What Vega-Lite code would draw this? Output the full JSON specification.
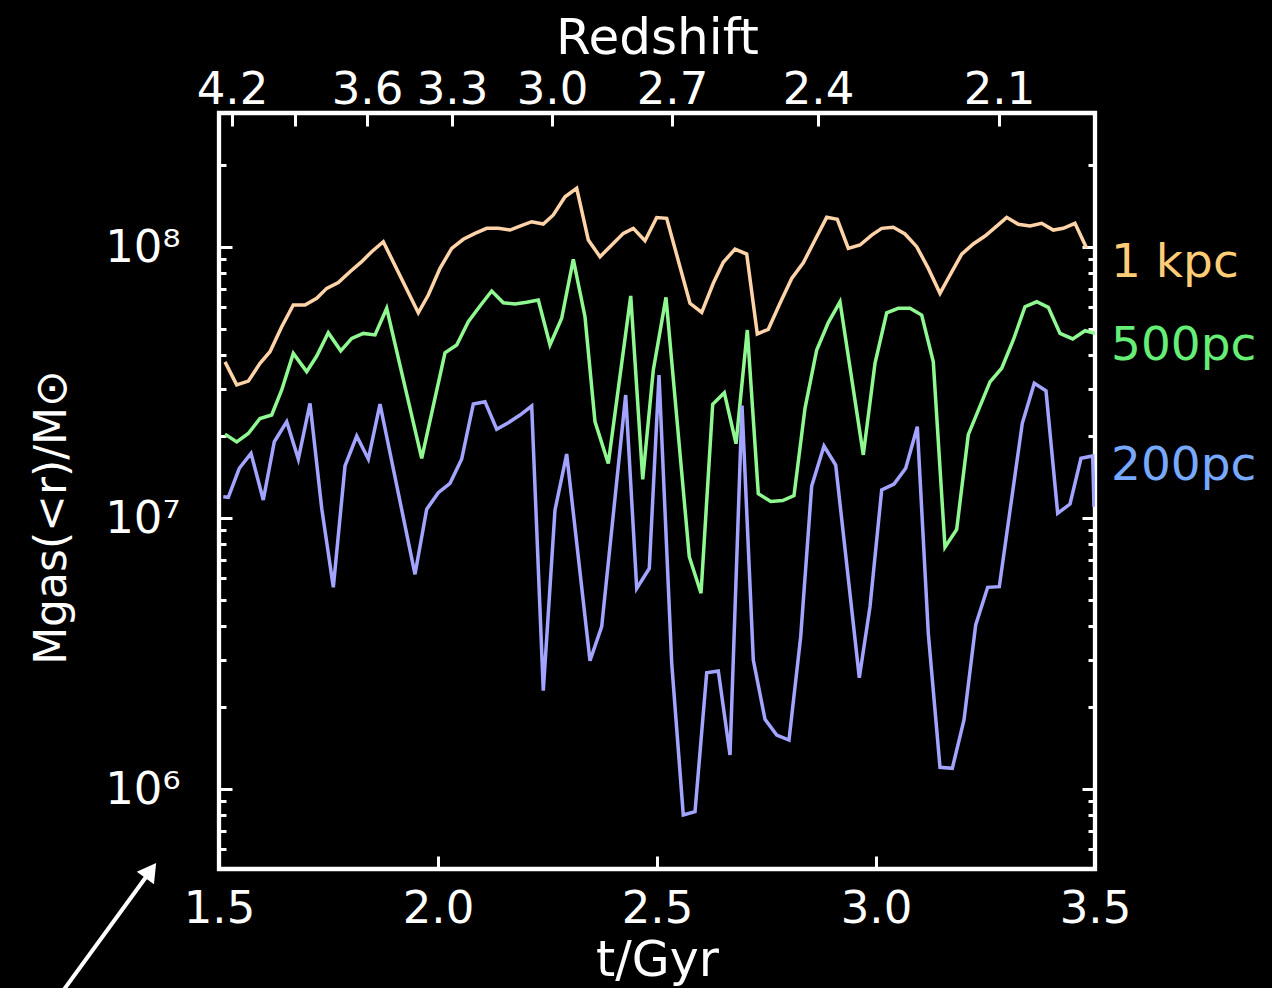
{
  "$schema": "https://vega.github.io/schema/vega-lite/v6.json",
  "width": 876,
  "height": 756,
  "autosize": "none",
  "padding": {"left": 219, "top": 113, "right": 177, "bottom": 119},
  "background": "black",
  "config": {"view": {"stroke": "white", "strokeWidth": 4.3}, "font": "DejaVu Sans"},
  "datasets": {
    "gas": [
      {"s":"1 kpc","t":1.5137,"m":3.77e7},{"s":"1 kpc","t":1.5404,"m":3.10e7},{"s":"1 kpc","t":1.5669,"m":3.20e7},{"s":"1 kpc","t":1.5936,"m":3.72e7},{"s":"1 kpc","t":1.6164,"m":4.11e7},{"s":"1 kpc","t":1.6432,"m":5.08e7},{"s":"1 kpc","t":1.6696,"m":6.11e7},{"s":"1 kpc","t":1.6963,"m":6.11e7},{"s":"1 kpc","t":1.7231,"m":6.47e7},{"s":"1 kpc","t":1.7459,"m":7.04e7},{"s":"1 kpc","t":1.7724,"m":7.39e7},{"s":"1 kpc","t":1.7991,"m":8.11e7},{"s":"1 kpc","t":1.8258,"m":8.83e7},{"s":"1 kpc","t":1.8486,"m":9.61e7},{"s":"1 kpc","t":1.8751,"m":1.046e8},{"s":"1 kpc","t":1.9550,"m":5.72e7},{"s":"1 kpc","t":1.9779,"m":6.65e7},{"s":"1 kpc","t":2.0046,"m":8.34e7},{"s":"1 kpc","t":2.0313,"m":9.89e7},{"s":"1 kpc","t":2.0578,"m":1.068e8},{"s":"1 kpc","t":2.0845,"m":1.123e8},{"s":"1 kpc","t":2.1112,"m":1.172e8},{"s":"1 kpc","t":2.1377,"m":1.172e8},{"s":"1 kpc","t":2.1644,"m":1.155e8},{"s":"1 kpc","t":2.1872,"m":1.195e8},{"s":"1 kpc","t":2.2139,"m":1.240e8},{"s":"1 kpc","t":2.2404,"m":1.216e8},{"s":"1 kpc","t":2.2632,"m":1.313e8},{"s":"1 kpc","t":2.2900,"m":1.533e8},{"s":"1 kpc","t":2.3167,"m":1.647e8},{"s":"1 kpc","t":2.3432,"m":1.061e8},{"s":"1 kpc","t":2.3699,"m":9.21e7},{"s":"1 kpc","t":2.3966,"m":1.017e8},{"s":"1 kpc","t":2.4231,"m":1.123e8},{"s":"1 kpc","t":2.4459,"m":1.172e8},{"s":"1 kpc","t":2.4726,"m":1.055e8},{"s":"1 kpc","t":2.4993,"m":1.285e8},{"s":"1 kpc","t":2.5221,"m":1.276e8},{"s":"1 kpc","t":2.5753,"m":6.20e7},{"s":"1 kpc","t":2.6021,"m":5.74e7},{"s":"1 kpc","t":2.6285,"m":7.35e7},{"s":"1 kpc","t":2.6514,"m":8.78e7},{"s":"1 kpc","t":2.6781,"m":9.83e7},{"s":"1 kpc","t":2.7048,"m":9.42e7},{"s":"1 kpc","t":2.7290,"m":4.78e7},{"s":"1 kpc","t":2.7541,"m":4.97e7},{"s":"1 kpc","t":2.7808,"m":6.20e7},{"s":"1 kpc","t":2.8075,"m":7.66e7},{"s":"1 kpc","t":2.8340,"m":8.75e7},{"s":"1 kpc","t":2.8607,"m":1.061e8},{"s":"1 kpc","t":2.8874,"m":1.287e8},{"s":"1 kpc","t":2.9116,"m":1.265e8},{"s":"1 kpc","t":2.9368,"m":9.89e7},{"s":"1 kpc","t":2.9635,"m":1.017e8},{"s":"1 kpc","t":2.9902,"m":1.107e8},{"s":"1 kpc","t":3.0130,"m":1.172e8},{"s":"1 kpc","t":3.0395,"m":1.182e8},{"s":"1 kpc","t":3.0662,"m":1.117e8},{"s":"1 kpc","t":3.0929,"m":1.003e8},{"s":"1 kpc","t":3.1194,"m":8.34e7},{"s":"1 kpc","t":3.1461,"m":6.75e7},{"s":"1 kpc","t":3.1689,"m":7.88e7},{"s":"1 kpc","t":3.1957,"m":9.42e7},{"s":"1 kpc","t":3.2221,"m":1.026e8},{"s":"1 kpc","t":3.2489,"m":1.098e8},{"s":"1 kpc","t":3.2756,"m":1.195e8},{"s":"1 kpc","t":3.2984,"m":1.287e8},{"s":"1 kpc","t":3.3249,"m":1.213e8},{"s":"1 kpc","t":3.3516,"m":1.195e8},{"s":"1 kpc","t":3.3783,"m":1.223e8},{"s":"1 kpc","t":3.4048,"m":1.155e8},{"s":"1 kpc","t":3.4276,"m":1.172e8},{"s":"1 kpc","t":3.4543,"m":1.223e8},{"s":"1 kpc","t":3.4810,"m":9.89e7},
      {"s":"500pc","t":1.5137,"m":2.04e7},{"s":"500pc","t":1.5404,"m":1.91e7},{"s":"500pc","t":1.5669,"m":2.05e7},{"s":"500pc","t":1.5936,"m":2.33e7},{"s":"500pc","t":1.6203,"m":2.40e7},{"s":"500pc","t":1.6432,"m":2.97e7},{"s":"500pc","t":1.6696,"m":4.05e7},{"s":"500pc","t":1.7002,"m":3.47e7},{"s":"500pc","t":1.7231,"m":3.96e7},{"s":"500pc","t":1.7495,"m":4.83e7},{"s":"500pc","t":1.7779,"m":4.14e7},{"s":"500pc","t":1.8030,"m":4.60e7},{"s":"500pc","t":1.8295,"m":4.80e7},{"s":"500pc","t":1.8562,"m":4.74e7},{"s":"500pc","t":1.8829,"m":5.94e7},{"s":"500pc","t":1.9628,"m":1.66e7},{"s":"500pc","t":2.0160,"m":4.07e7},{"s":"500pc","t":2.0427,"m":4.35e7},{"s":"500pc","t":2.0692,"m":5.30e7},{"s":"500pc","t":2.0959,"m":6.06e7},{"s":"500pc","t":2.1226,"m":6.88e7},{"s":"500pc","t":2.1491,"m":6.23e7},{"s":"500pc","t":2.1758,"m":6.16e7},{"s":"500pc","t":2.2025,"m":6.25e7},{"s":"500pc","t":2.2290,"m":6.37e7},{"s":"500pc","t":2.2557,"m":4.35e7},{"s":"500pc","t":2.2824,"m":5.46e7},{"s":"500pc","t":2.3089,"m":9.01e7},{"s":"500pc","t":2.3356,"m":5.53e7},{"s":"500pc","t":2.3584,"m":2.27e7},{"s":"500pc","t":2.3888,"m":1.59e7},{"s":"500pc","t":2.4400,"m":6.60e7},{"s":"500pc","t":2.4674,"m":1.39e7},{"s":"500pc","t":2.4916,"m":3.52e7},{"s":"500pc","t":2.5205,"m":6.52e7},{"s":"500pc","t":2.5737,"m":7.20e6},{"s":"500pc","t":2.6005,"m":5.28e6},{"s":"500pc","t":2.6272,"m":2.63e7},{"s":"500pc","t":2.6537,"m":2.90e7},{"s":"500pc","t":2.6804,"m":1.88e7},{"s":"500pc","t":2.7062,"m":4.94e7},{"s":"500pc","t":2.7313,"m":1.23e7},{"s":"500pc","t":2.7596,"m":1.15e7},{"s":"500pc","t":2.7870,"m":1.16e7},{"s":"500pc","t":2.8128,"m":1.21e7},{"s":"500pc","t":2.8379,"m":2.54e7},{"s":"500pc","t":2.8646,"m":4.17e7},{"s":"500pc","t":2.8911,"m":5.26e7},{"s":"500pc","t":2.9178,"m":6.28e7},{"s":"500pc","t":2.9710,"m":1.71e7},{"s":"500pc","t":2.9977,"m":3.72e7},{"s":"500pc","t":3.0244,"m":5.72e7},{"s":"500pc","t":3.0509,"m":5.94e7},{"s":"500pc","t":3.0776,"m":5.94e7},{"s":"500pc","t":3.1043,"m":5.61e7},{"s":"500pc","t":3.1308,"m":3.77e7},{"s":"500pc","t":3.1575,"m":7.80e6},{"s":"500pc","t":3.1842,"m":9.08e6},{"s":"500pc","t":3.2107,"m":2.03e7},{"s":"500pc","t":3.2603,"m":3.18e7},{"s":"500pc","t":3.2870,"m":3.57e7},{"s":"500pc","t":3.3135,"m":4.54e7},{"s":"500pc","t":3.3402,"m":6.02e7},{"s":"500pc","t":3.3669,"m":6.28e7},{"s":"500pc","t":3.3934,"m":5.99e7},{"s":"500pc","t":3.4201,"m":4.80e7},{"s":"500pc","t":3.4491,"m":4.58e7},{"s":"500pc","t":3.4772,"m":4.91e7},{"s":"500pc","t":3.5,"m":4.80e7},
      {"s":"200pc","t":1.5098,"m":1.198e7},{"s":"200pc","t":1.5212,"m":1.192e7},{"s":"200pc","t":1.5463,"m":1.526e7},{"s":"200pc","t":1.5731,"m":1.733e7},{"s":"200pc","t":1.6011,"m":1.165e7},{"s":"200pc","t":1.6263,"m":1.912e7},{"s":"200pc","t":1.6546,"m":2.267e7},{"s":"200pc","t":1.6811,"m":1.651e7},{"s":"200pc","t":1.7078,"m":2.650e7},{"s":"200pc","t":1.7345,"m":1.086e7},{"s":"200pc","t":1.7610,"m":5.55e6},{"s":"200pc","t":1.7877,"m":1.556e7},{"s":"200pc","t":1.8144,"m":2.007e7},{"s":"200pc","t":1.8409,"m":1.651e7},{"s":"200pc","t":1.8676,"m":2.634e7},{"s":"200pc","t":1.9475,"m":6.20e6},{"s":"200pc","t":1.9742,"m":1.077e7},{"s":"200pc","t":2.0007,"m":1.240e7},{"s":"200pc","t":2.0274,"m":1.343e7},{"s":"200pc","t":2.0541,"m":1.651e7},{"s":"200pc","t":2.0806,"m":2.634e7},{"s":"200pc","t":2.1073,"m":2.687e7},{"s":"200pc","t":2.1340,"m":2.125e7},{"s":"200pc","t":2.1605,"m":2.247e7},{"s":"200pc","t":2.1872,"m":2.399e7},{"s":"200pc","t":2.2139,"m":2.590e7},{"s":"200pc","t":2.2404,"m":2.305e6},{"s":"200pc","t":2.2671,"m":1.070e7},{"s":"200pc","t":2.2938,"m":1.723e7},{"s":"200pc","t":2.3470,"m":2.975e6},{"s":"200pc","t":2.3737,"m":3.972e6},{"s":"200pc","t":2.4285,"m":2.843e7},{"s":"200pc","t":2.4537,"m":5.50e6},{"s":"200pc","t":2.4824,"m":6.52e6},{"s":"200pc","t":2.5046,"m":3.370e7},{"s":"200pc","t":2.5336,"m":2.910e6},{"s":"200pc","t":2.5600,"m":8.02e5},{"s":"200pc","t":2.5868,"m":8.25e5},{"s":"200pc","t":2.6135,"m":2.687e6},{"s":"200pc","t":2.6400,"m":2.725e6},{"s":"200pc","t":2.6667,"m":1.335e6},{"s":"200pc","t":2.6941,"m":2.601e7},{"s":"200pc","t":2.7199,"m":2.992e6},{"s":"200pc","t":2.7466,"m":1.808e6},{"s":"200pc","t":2.7733,"m":1.582e6},{"s":"200pc","t":2.8014,"m":1.516e6},{"s":"200pc","t":2.8281,"m":3.648e6},{"s":"200pc","t":2.8532,"m":1.313e7},{"s":"200pc","t":2.8813,"m":1.844e7},{"s":"200pc","t":2.9080,"m":1.569e7},{"s":"200pc","t":2.9619,"m":2.575e6},{"s":"200pc","t":2.9863,"m":4.707e6},{"s":"200pc","t":3.0130,"m":1.269e7},{"s":"200pc","t":3.0411,"m":1.335e7},{"s":"200pc","t":3.0678,"m":1.526e7},{"s":"200pc","t":3.0943,"m":2.173e7},{"s":"200pc","t":3.1194,"m":3.754e6},{"s":"200pc","t":3.1461,"m":1.203e6},{"s":"200pc","t":3.1742,"m":1.192e6},{"s":"200pc","t":3.2009,"m":1.797e6},{"s":"200pc","t":3.2276,"m":4.030e6},{"s":"200pc","t":3.2550,"m":5.55e6},{"s":"200pc","t":3.2815,"m":5.58e6},{"s":"200pc","t":3.3340,"m":2.235e7},{"s":"200pc","t":3.3614,"m":3.141e7},{"s":"200pc","t":3.3881,"m":2.949e7},{"s":"200pc","t":3.4148,"m":1.041e7},{"s":"200pc","t":3.4429,"m":1.126e7},{"s":"200pc","t":3.4680,"m":1.661e7},{"s":"200pc","t":3.4947,"m":1.694e7},{"s":"200pc","t":3.4977,"m":1.101e7}
    ],
    "labels": [
      {"s":"1 kpc","t":3.5,"m":7.77e7},
      {"s":"500pc","t":3.5,"m":3.83e7},
      {"s":"200pc","t":3.5,"m":1.381e7}
    ],
    "arrow": [
      {"t":1.137,"m":173800,"t2":1.3442,"m2":500400}
    ]
  },
  "layer": [
    {
      "data": {"name": "gas"},
      "mark": {"type": "line", "strokeWidth": 3.5, "clip": true},
      "encoding": {
        "x": {"field": "t", "type": "quantitative",
          "scale": {"domain": [1.5, 3.5], "nice": false, "zero": false},
          "axis": {"orient": "bottom", "values": [1.5, 2, 2.5, 3, 3.5], "format": ".1f", "domain": false, "grid": false,
            "tickColor": "white", "tickWidth": 3, "tickSize": -13, "labelPadding": 66, "labelBaseline": "alphabetic",
            "labelColor": "white", "labelFontSize": 45, "labelFlush": false, "labelOverlap": false, "labelBound": false,
            "title": "t/Gyr", "titleColor": "white", "titleFontSize": 49, "titleFontWeight": "normal",
            "titleBaseline": "alphabetic", "titleY": 106}},
        "y": {"field": "m", "type": "quantitative",
          "scale": {"type": "log", "domain": [506800, 312300000], "nice": false},
          "axis": {"orient": "left",
            "values": [600000, 700000, 800000, 900000, 1000000, 2000000, 3000000, 4000000, 5000000, 6000000, 7000000, 8000000, 9000000, 10000000, 20000000, 30000000, 40000000, 50000000, 60000000, 70000000, 80000000, 90000000, 100000000, 200000000],
            "labelExpr": "datum.value == 100000000 ? '10⁸' : datum.value == 10000000 ? '10⁷' : datum.value == 1000000 ? '10⁶' : ''",
            "tickSize": {"condition": {"test": "datum.value == 1000000 || datum.value == 10000000 || datum.value == 100000000", "value": -13}, "value": -7},
            "domain": false, "grid": false, "tickColor": "white", "tickWidth": 3,
            "labelPadding": 52, "labelColor": "white", "labelFontSize": 45, "labelOverlap": false, "labelBound": false, "labelFlush": false,
            "title": "Mgas(<r)/M⊙", "titleColor": "white", "titleFontSize": 44, "titleFontWeight": "normal",
            "titleBaseline": "alphabetic", "titleX": -154, "titleY": 404}},
        "color": {"field": "s", "type": "nominal",
          "scale": {"domain": ["1 kpc", "500pc", "200pc"], "range": ["#ffd3a8", "#90f890", "#a2a4ff"]},
          "legend": null}
      }
    },
    {
      "data": {"name": "labels"},
      "mark": {"type": "text", "align": "left", "baseline": "alphabetic", "dx": 16, "fontSize": 47, "clip": false},
      "encoding": {
        "x": {"field": "t", "type": "quantitative",
          "scale": {"domain": [1.5, 3.5], "nice": false, "zero": false},
          "axis": {"orient": "top",
            "values": [1.5297, 1.6735, 1.8379, 2.032, 2.2603, 2.5342, 2.8676, 3.2808],
            "labelExpr": "['4.2','','3.6','3.3','3.0','2.7','2.4','2.1'][indexof([1.5297, 1.6735, 1.8379, 2.032, 2.2603, 2.5342, 2.8676, 3.2808], datum.value)]",
            "domain": false, "grid": false, "tickColor": "white", "tickWidth": 3, "tickSize": -13,
            "labelPadding": 23, "labelBaseline": "alphabetic", "labelColor": "white", "labelFontSize": 45,
            "labelOverlap": false, "labelBound": false, "labelFlush": false,
            "title": "Redshift", "titleColor": "white", "titleFontSize": 50, "titleFontWeight": "normal",
            "titleBaseline": "alphabetic", "titleY": -60}},
        "y": {"field": "m", "type": "quantitative",
          "scale": {"type": "log", "domain": [506800, 312300000], "nice": false},
          "axis": {"orient": "right",
            "values": [600000, 700000, 800000, 900000, 1000000, 2000000, 3000000, 4000000, 5000000, 6000000, 7000000, 8000000, 9000000, 10000000, 20000000, 30000000, 40000000, 50000000, 60000000, 70000000, 80000000, 90000000, 100000000, 200000000],
            "labels": false,
            "tickSize": {"condition": {"test": "datum.value == 1000000 || datum.value == 10000000 || datum.value == 100000000", "value": -13}, "value": -7},
            "domain": false, "grid": false, "tickColor": "white", "tickWidth": 3, "title": null}},
        "text": {"field": "s", "type": "nominal"},
        "color": {"field": "s", "type": "nominal",
          "scale": {"domain": ["1 kpc", "500pc", "200pc"], "range": ["#ffcc77", "#66ee77", "#77aaff"]},
          "legend": null}
      }
    },
    {
      "data": {"name": "arrow"},
      "mark": {"type": "rule", "color": "white", "strokeWidth": 4, "clip": false},
      "encoding": {
        "x": {"field": "t", "type": "quantitative", "scale": {"domain": [1.5, 3.5], "nice": false, "zero": false}, "axis": null},
        "y": {"field": "m", "type": "quantitative", "scale": {"type": "log", "domain": [506800, 312300000], "nice": false}, "axis": null},
        "x2": {"field": "t2"},
        "y2": {"field": "m2"}
      }
    },
    {
      "data": {"name": "arrow"},
      "mark": {"type": "point", "shape": "triangle-up", "filled": true, "color": "white", "opacity": 1, "size": 450, "angle": 36, "strokeWidth": 0, "clip": false},
      "encoding": {
        "x": {"field": "t2", "type": "quantitative", "scale": {"domain": [1.5, 3.5], "nice": false, "zero": false}, "axis": null},
        "y": {"field": "m2", "type": "quantitative", "scale": {"type": "log", "domain": [506800, 312300000], "nice": false}, "axis": null}
      }
    }
  ],
  "resolve": {
    "scale": {"color": "independent"},
    "axis": {"x": "independent", "y": "independent"}
  }
}
